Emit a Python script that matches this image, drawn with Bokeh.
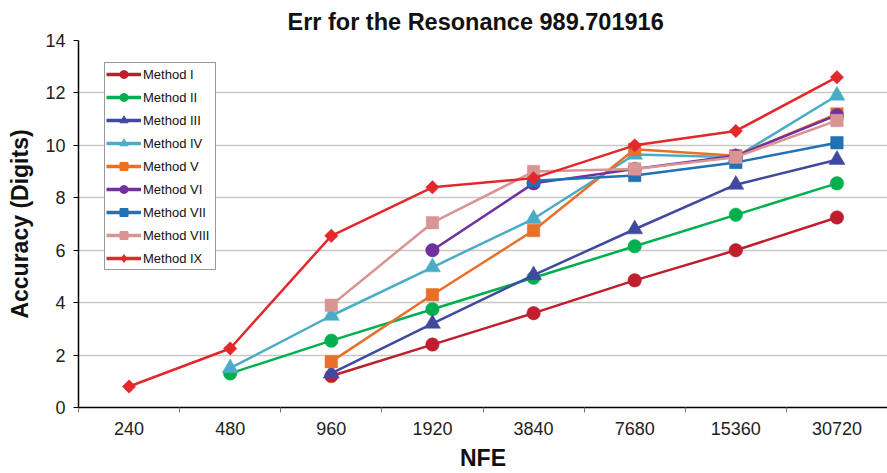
import numpy as np
from bokeh.plotting import figure
from bokeh.models import Range1d, FixedTicker, Legend, LegendItem
from bokeh.embed import file_html
from bokeh.resources import INLINE

nan = np.nan
categories = ["240", "480", "960", "1920", "3840", "7680", "15360", "30720"]
y_ticks = [0, 2, 4, 6, 8, 10, 12, 14]

method_1 = [nan, nan, 1.2, 2.4, 3.6, 4.85, 6.0, 7.25]
method_2 = [nan, 1.3, 2.55, 3.75, 4.95, 6.15, 7.35, 8.55]
method_3 = [nan, nan, 1.3, 3.2, 5.05, 6.8, 8.5, 9.45]
method_4 = [nan, 1.5, 3.5, 5.35, 7.2, 9.65, 9.55, 11.9]
method_5 = [nan, nan, 1.75, 4.3, 6.75, 9.85, 9.6, 11.2]
method_6 = [nan, nan, nan, 6.0, 8.55, 9.1, 9.6, 11.15]
method_7 = [nan, nan, nan, nan, 8.65, 8.85, 9.35, 10.1]
method_8 = [nan, nan, 3.9, 7.05, 9.0, 9.1, 9.55, 10.95]
method_9 = [0.8, 2.25, 6.55, 8.4, 8.75, 10.0, 10.55, 12.6]

names = ["Method I", "Method II", "Method III", "Method IV", "Method V",
         "Method VI", "Method VII", "Method VIII", "Method IX"]
series = [method_1, method_2, method_3, method_4, method_5,
          method_6, method_7, method_8, method_9]
colors = ["#BE1E2D", "#00B050", "#4049A0", "#4BACC6", "#E8712A",
          "#7030A0", "#2171B5", "#D99594", "#E3282C"]
markers = ["circle", "circle", "triangle", "triangle", "square",
           "circle", "square", "square", "square"]
legend_markers = ["circle", "circle", "triangle", "triangle", "square",
                  "circle", "square", "square", "diamond"]
sizes = [13.5, 13.5, 16, 16, 12.5, 13.5, 12.5, 12.5, 9.5]
legend_sizes = [9, 9, 11, 11, 8.5, 9, 8.5, 8.5, 11]
angles = [0, 0, 0, 0, 0, 0, 0, 0, np.pi / 4]

x_idx = list(range(len(categories)))
FONT = "Liberation Sans"

p = figure(width=887, height=473, output_backend="svg", toolbar_location=None,
           x_range=Range1d(-0.5, len(categories) - 0.5), y_range=Range1d(0, 14),
           min_border_left=78, min_border_right=0, min_border_top=40,
           min_border_bottom=66)
p.outline_line_color = None
p.background_fill_color = "white"

p.title.text = "Err for the Resonance 989.701916"
p.title.align = "left"
p.title.offset = 209
p.title.standoff = 12
p.title.text_font = FONT
p.title.text_font_size = "23.5px"
p.title.text_font_style = "bold"
p.title.text_color = "#111111"

# x axis
p.xaxis.ticker = FixedTicker(ticks=x_idx, minor_ticks=[i - 0.5 for i in range(len(categories) + 1)])
p.xaxis.major_label_overrides = {i: c for i, c in zip(x_idx, categories)}
p.xaxis.major_tick_out = 0
p.xaxis.major_tick_in = 0
p.xaxis.minor_tick_out = 5
p.xaxis.minor_tick_in = 0
p.xaxis.minor_tick_line_color = "#777777"
p.xaxis.major_label_text_font = FONT
p.xaxis.major_label_text_font_size = "18px"
p.xaxis.major_label_text_color = "#222222"
p.xaxis.major_label_standoff = 9
p.xaxis.axis_label = "NFE"
p.xaxis.axis_label_text_font = FONT
p.xaxis.axis_label_text_font_size = "23px"
p.xaxis.axis_label_text_font_style = "bold"
p.xaxis.axis_label_text_color = "#111111"
p.xaxis.axis_label_standoff = 7
p.xaxis.axis_line_color = "black"
p.xaxis.axis_line_width = 1.5

# y axis
p.yaxis.ticker = FixedTicker(ticks=y_ticks, minor_ticks=[])
p.yaxis.major_tick_out = 5
p.yaxis.major_tick_in = 0
p.yaxis.minor_tick_out = 0
p.yaxis.major_tick_line_color = "black"
p.yaxis.major_label_text_font = FONT
p.yaxis.major_label_text_font_size = "18px"
p.yaxis.major_label_text_color = "#222222"
p.yaxis.major_label_standoff = 8
p.yaxis.axis_label = "Accuracy (Digits)"
p.yaxis.axis_label_text_font = FONT
p.yaxis.axis_label_text_font_size = "23px"
p.yaxis.axis_label_text_font_style = "bold"
p.yaxis.axis_label_text_color = "#111111"
p.yaxis.axis_label_standoff = 9
p.yaxis.axis_line_color = "black"
p.yaxis.axis_line_width = 1.5

p.xgrid.visible = False
p.ygrid.grid_line_color = "#C8C8C8"
p.ygrid.grid_line_width = 1.5

items = []
for name, ys, col, mk, lmk, sz, lsz, ang in zip(names, series, colors, markers, legend_markers,
                                                sizes, legend_sizes, angles):
    ys_arr = np.array(ys, dtype=float)
    p.line(x_idx, ys_arr, line_color=col, line_width=2.5)
    p.scatter(x_idx, ys_arr, marker=mk, size=sz, angle=ang,
              fill_color=col, line_color=col, line_width=0.5)
    # legend-only glyphs (a single undrawable point) with the smaller legend marker
    lr = p.line(x=[nan], y=[nan], line_color=col, line_width=3.5)
    sr = p.scatter(x=[nan], y=[nan], marker=lmk, size=lsz,
                   fill_color=col, line_color=col)
    items.append(LegendItem(label=name, renderers=[lr, sr]))

legend = Legend(items=items, location=(26, 137))
legend.label_text_font = FONT
legend.label_text_font_size = "13px"
legend.label_text_color = "#111111"
legend.glyph_width = 35
legend.glyph_height = 20
legend.label_height = 20
legend.label_width = 71
legend.label_standoff = 2
legend.spacing = 3
legend.padding = 1
legend.margin = 0
legend.border_line_color = "#333333"
legend.border_line_width = 1.2
legend.background_fill_color = "white"
legend.background_fill_alpha = 1.0
p.add_layout(legend, "center")

open("out.html", "w").write(file_html(p, INLINE))
